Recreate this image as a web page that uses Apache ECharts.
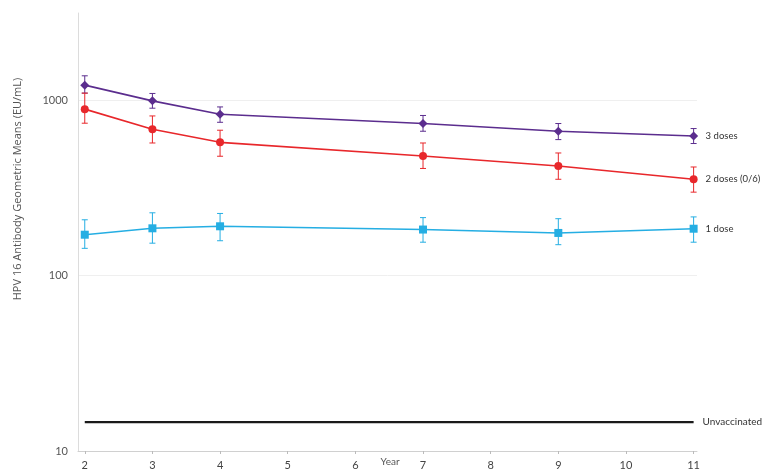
<!DOCTYPE html>
<html>
<head>
<meta charset="utf-8">
<script src="https://cdn.jsdelivr.net/npm/echarts@6/dist/echarts.min.js"></script>
<style>
html,body{margin:0;padding:0;background:#fff;}
#chart{width:764px;height:474px;}
</style>
</head>
<body>
<div id="chart"></div>
<script>
const years = [2, 3, 4, 7, 9, 11];
const xTicks = [2, 3, 4, 5, 6, 7, 8, 9, 10, 11];
const yTicks = [10, 100, 1000];

const dose3 = [1218, 991, 832, 736, 665, 625];
const dose3Low = [1097, 900, 748, 665, 596, 566];
const dose3High = [1377, 1092, 915, 818, 736, 689];

const dose2 = [889, 682, 575, 481, 421, 354];
const dose2Low = [739, 570, 479, 408, 354, 299];
const dose2High = [1097, 813, 674, 570, 500, 416];

const dose1 = [171, 186, 191, 183, 175, 185];
const dose1Low = [143, 153, 158, 155, 150, 155];
const dose1High = [208, 228, 226, 214, 211, 216];

const unvaccinatedX = [2, 11];
const unvaccinatedLevel = 14.6;

const seriesNames = ['3 doses', '2 doses (0/6)', '1 dose', 'Unvaccinated'];

const chart = echarts.init(document.getElementById('chart'));

function pts(vals) { return years.map((y, i) => [y, vals[i]]); }
function errData(lo, hi) { return years.map((y, i) => [y, lo[i], hi[i]]); }

function errSeries(lo, hi, color) {
  return {
    type: 'custom',
    data: errData(lo, hi),
    silent: true,
    z: 1,
    renderItem: function (params, api) {
      const x = api.value(0);
      const pLo = api.coord([x, api.value(1)]);
      const pHi = api.coord([x, api.value(2)]);
      const w = 3;
      const style = { stroke: color, lineWidth: 1 };
      return {
        type: 'group',
        children: [
          { type: 'line', shape: { x1: pLo[0], y1: pLo[1], x2: pHi[0], y2: pHi[1] }, style: style },
          { type: 'line', shape: { x1: pLo[0] - w, y1: pLo[1], x2: pLo[0] + w, y2: pLo[1] }, style: style },
          { type: 'line', shape: { x1: pHi[0] - w, y1: pHi[1], x2: pHi[0] + w, y2: pHi[1] }, style: style }
        ]
      };
    }
  };
}

function lineSeries(name, vals, color, symbol, size) {
  return {
    name: name,
    type: 'line',
    data: pts(vals),
    symbol: symbol,
    symbolSize: size,
    z: 3,
    itemStyle: { color: color },
    lineStyle: { color: color, width: 1.6 },
    endLabel: {
      show: true,
      formatter: '{a}',
      distance: 12,
      color: '#333',
      fontSize: 9.5,
      fontFamily: 'Lato'
    }
  };
}

const option = {
  animation: false,
  backgroundColor: '#fff',
  grid: { left: 78, right: 67, top: 13, bottom: 23, containLabel: false, outerBoundsMode: 'none' },
  xAxis: {
    type: 'value',
    min: 1.9,
    max: 11.05,
    axisLine: { show: true, lineStyle: { color: '#d0d0d0', width: 1 } },
    axisTick: { show: true, customValues: xTicks, length: 3, inside: false, lineStyle: { color: '#bbb' } },
    axisLabel: { customValues: xTicks, color: '#444', fontSize: 11, fontFamily: 'Lato', margin: 9 },
    splitLine: { show: false }
  },
  yAxis: {
    type: 'log',
    logBase: 10,
    min: 10,
    max: 3140,
    axisLine: { show: true, lineStyle: { color: '#dcdcdc', width: 1 } },
    axisTick: { show: false, customValues: yTicks },
    axisLabel: { customValues: yTicks, formatter: v => String(Math.round(v)), color: '#555', fontSize: 11, fontFamily: 'Lato', margin: 10 },
    splitLine: { show: true, lineStyle: { color: '#efefef', width: 1 } }
  },
  graphic: [
    {
      type: 'text',
      x: 18,
      y: 189,
      rotation: Math.PI / 2,
      style: {
        text: 'HPV 16 Antibody Geometric Means (EU/mL)',
        fill: '#555',
        fontSize: 11,
        fontFamily: 'Open Sans',
        align: 'center',
        verticalAlign: 'middle'
      }
    },
    {
      type: 'text',
      x: 390,
      y: 462,
      style: {
        text: 'Year',
        fill: '#555',
        fontSize: 10,
        fontFamily: 'Lato',
        align: 'center',
        verticalAlign: 'middle'
      }
    }
  ],
  series: [
    errSeries(dose3Low, dose3High, '#5b2d8e'),
    errSeries(dose2Low, dose2High, '#e8272b'),
    errSeries(dose1Low, dose1High, '#25aee3'),
    lineSeries(seriesNames[0], dose3, '#5b2d8e', 'diamond', 9),
    lineSeries(seriesNames[1], dose2, '#e8272b', 'circle', 8),
    lineSeries(seriesNames[2], dose1, '#25aee3', 'rect', 8),
    {
      name: seriesNames[3],
      type: 'line',
      data: unvaccinatedX.map(x => [x, unvaccinatedLevel]),
      symbol: 'none',
      z: 3,
      lineStyle: { color: '#1a1a1a', width: 2.2 },
      endLabel: { show: true, formatter: '{a}', distance: 9, color: '#333', fontSize: 10, fontFamily: 'Lato' }
    }
  ]
};
chart.setOption(option);
</script>
</body>
</html>
